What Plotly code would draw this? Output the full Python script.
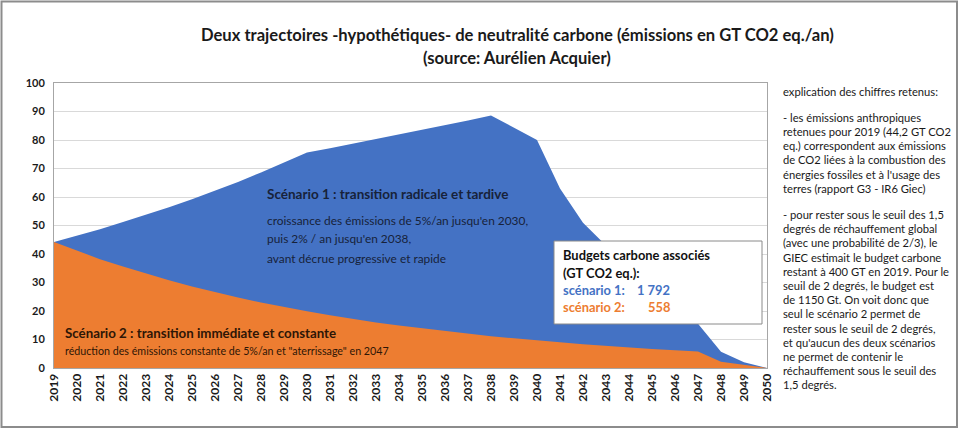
import plotly.graph_objects as go

# ---------------- data ----------------
years = list(range(2019, 2051))
year_labels = [str(y) for y in years]

scenario1 = [44.2, 46.4, 48.7, 51.2, 53.7, 56.4, 59.2, 62.2, 65.3, 68.6, 72.0, 75.6,
             77.1, 78.7, 80.2, 81.8, 83.5, 85.1, 86.8, 88.6,
             84.3, 80.0, 63.0, 51.0, 43.0, 36.0, 29.0, 22.0, 15.5, 5.7, 2.0, 0.0]

scenario2 = [44.2, 41.1, 38.2, 35.6, 33.1, 30.8, 28.6, 26.6, 24.7, 23.0, 21.4, 19.9,
             18.5, 17.2, 16.0, 14.9, 13.9, 12.9, 12.0, 11.1, 10.4, 9.6, 9.0, 8.3,
             7.7, 7.2, 6.7, 6.2, 5.8, 2.2, 1.0, 0.0]

y_ticks = [0, 10, 20, 30, 40, 50, 60, 70, 80, 90, 100]

budget_labels = ["scénario 1:", "scénario 2:"]
budget_values = ["1 792", "558"]

title_lines = ["Deux trajectoires -hypothétiques- de neutralité carbone (émissions en GT CO2 eq./an)",
               "(source: Aurélien Acquier)"]

explain_lines = [
    "explication des chiffres retenus:",
    "",
    "- les émissions anthropiques",
    "retenues pour 2019 (44,2 GT CO2",
    "eq.) correspondent aux émissions",
    "de CO2 liées à la combustion des",
    "énergies fossiles et à l'usage des",
    "terres (rapport G3 - IR6 Giec)",
    "",
    "- pour rester sous le seuil des 1,5",
    "degrés de réchauffement global",
    "(avec une probabilité de 2/3), le",
    "GIEC estimait le budget carbone",
    "restant à 400 GT en 2019. Pour le",
    "seuil de 2 degrés, le budget est",
    "de 1150 Gt. On voit donc que",
    "seul le scénario 2 permet de",
    "rester sous le seuil de 2 degrés,",
    "et qu'aucun des deux scénarios",
    "ne permet de contenir le",
    "réchauffement sous le seuil des",
    "1,5 degrés.",
]

sc1_title = "Scénario 1 : transition radicale et tardive"
sc1_lines = ["croissance des émissions de 5%/an jusqu'en 2030,",
             "puis 2% / an jusqu'en 2038,",
             "avant décrue progressive et rapide"]
sc2_title = "Scénario 2 : transition immédiate et constante"
sc2_sub = "réduction des émissions constante de 5%/an et \"aterrissage\" en 2047"

BLUE = "#4472c4"
ORANGE = "#ed7d31"
FONT = "Lato"

W, H = 959, 429
L, R, T, B = 54, 192, 83, 61
PW = W - L - R
PH = H - T - B


def px(x):
    return (x - L) / PW


def py(y):
    return (H - B - y) / PH


fig = go.Figure()
fig.add_trace(go.Scatter(x=years, y=scenario1, mode="lines", line=dict(width=0, color=BLUE),
                         fill="tozeroy", fillcolor=BLUE, hoverinfo="skip", showlegend=False))
fig.add_trace(go.Scatter(x=years, y=scenario2, mode="lines", line=dict(width=0, color=ORANGE),
                         fill="tozeroy", fillcolor=ORANGE, hoverinfo="skip", showlegend=False))

ann = []
# title
for i, t in enumerate(title_lines):
    ann.append(dict(text="<b>%s</b>" % t, x=px(517), y=py(35 + 23 * i), xref="paper", yref="paper",
                    xanchor="center", yanchor="middle", showarrow=False,
                    font=dict(family=FONT, size=16.6, color="#1a1a1a")))

# scenario 1 text
ann.append(dict(text="<b>%s</b>" % sc1_title, x=px(265), y=py(194), xref="paper", yref="paper",
                xanchor="left", yanchor="middle", showarrow=False,
                font=dict(family=FONT, size=13.5, color="#17223a")))
for i, t in enumerate(sc1_lines):
    ann.append(dict(text=t, x=px(265), y=py(220 + 19 * i), xref="paper", yref="paper",
                    xanchor="left", yanchor="middle", showarrow=False,
                    font=dict(family=FONT, size=11.9, color="#17223a")))

# scenario 2 text
ann.append(dict(text="<b>%s</b>" % sc2_title, x=px(63), y=py(333), xref="paper", yref="paper",
                xanchor="left", yanchor="middle", showarrow=False,
                font=dict(family=FONT, size=13.3, color="#2e1606")))
ann.append(dict(text=sc2_sub, x=px(63), y=py(350), xref="paper", yref="paper",
                xanchor="left", yanchor="middle", showarrow=False,
                font=dict(family=FONT, size=10.7, color="#2e1606")))

# budget box
ann.append(dict(text="<b>Budgets carbone associés</b>", x=px(561), y=py(255), xref="paper", yref="paper",
                xanchor="left", yanchor="middle", showarrow=False,
                font=dict(family=FONT, size=12.9, color="#111111")))
ann.append(dict(text="<b>(GT CO2 eq.):</b>", x=px(561), y=py(273), xref="paper", yref="paper",
                xanchor="left", yanchor="middle", showarrow=False,
                font=dict(family=FONT, size=12.9, color="#111111")))
for i, (lab, val, col) in enumerate(zip(budget_labels, budget_values, [BLUE, ORANGE])):
    ann.append(dict(text="<b>%s</b>" % lab, x=px(561), y=py(290 + 17 * i), xref="paper", yref="paper",
                    xanchor="left", yanchor="middle", showarrow=False,
                    font=dict(family=FONT, size=12.9, color=col)))
    ann.append(dict(text="<b>%s</b>" % val, x=px(672), y=py(290 + 17 * i), xref="paper", yref="paper",
                    xanchor="right", yanchor="middle", showarrow=False,
                    font=dict(family=FONT, size=12.9, color=col)))

# explanation block
yy = 91.0
for t in explain_lines:
    if t == "":
        yy += 12.1
        continue
    ann.append(dict(text=t, x=px(781), y=py(yy), xref="paper", yref="paper",
                    xanchor="left", yanchor="middle", showarrow=False,
                    font=dict(family=FONT, size=11.2, color="#1a1a1a")))
    yy += 14.2

shapes = [
    dict(type="rect", xref="paper", yref="paper", x0=px(554), y0=py(324), x1=px(762), y1=py(241),
         line=dict(color="#8a8a8a", width=1), fillcolor="white", layer="above"),
    dict(type="rect", xref="paper", yref="paper", x0=px(1.5), y0=py(427), x1=px(957), y1=py(1.5),
         line=dict(color="#8c8c8c", width=2), fillcolor="rgba(0,0,0,0)", layer="above"),
]

fig.update_layout(
    width=W, height=H,
    margin=dict(l=L, r=R, t=T, b=B),
    paper_bgcolor="white", plot_bgcolor="white",
    annotations=ann, shapes=shapes,
    font=dict(family=FONT, color="#1a1a1a"),
    xaxis=dict(range=[years[0], years[-1]], tickmode="array", tickvals=years,
               ticktext=["<b>%s</b>" % s for s in year_labels], tickangle=-90,
               tickfont=dict(family=FONT, size=12, color="#1a1a1a"),
               showgrid=False, zeroline=False, showline=True, linecolor="#a6a6a6",
               linewidth=1, mirror=True, ticks="", fixedrange=True),
    yaxis=dict(range=[0, 100], tickmode="array", tickvals=y_ticks,
               ticktext=["<b>%d</b>" % v for v in y_ticks],
               tickfont=dict(family=FONT, size=11, color="#1a1a1a"),
               showgrid=True, gridcolor="#d9d9d9", gridwidth=1, zeroline=False,
               showline=True, linecolor="#a6a6a6", linewidth=1, mirror=True,
               ticks="outside", ticklen=6, tickcolor="white", fixedrange=True),
)

fig.write_html("out.html", config={"displayModeBar": False},
               post_script="document.body.style.margin='0';document.body.style.padding='0';")
